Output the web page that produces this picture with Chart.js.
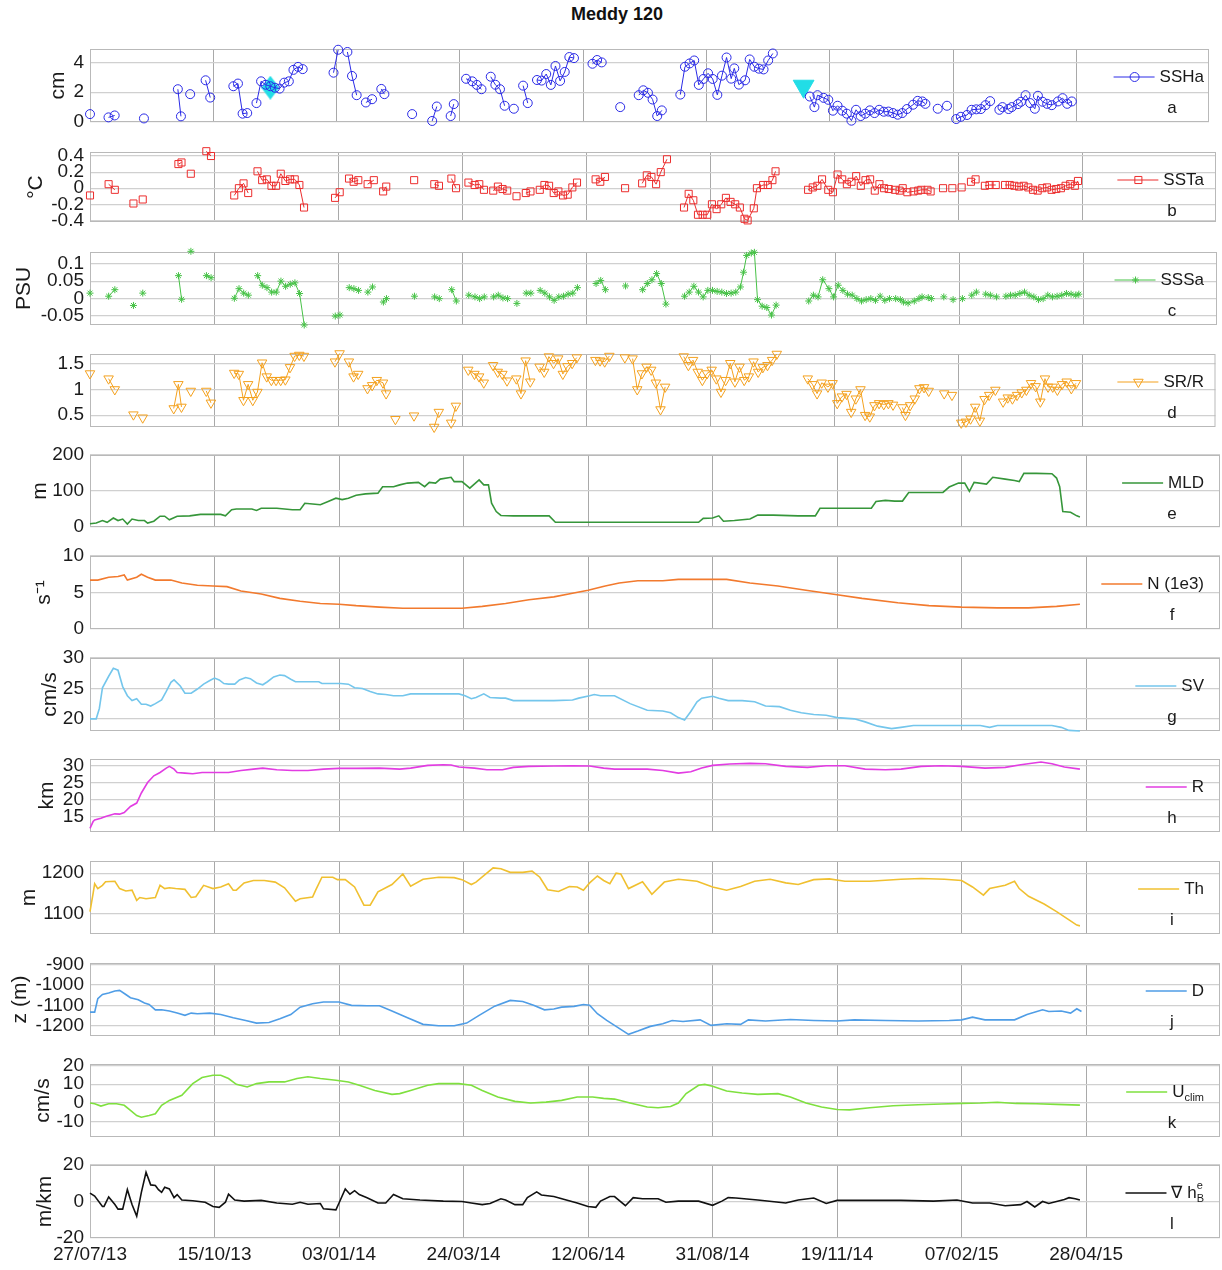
<!DOCTYPE html>
<html>
<head>
<meta charset="utf-8">
<title>Meddy 120</title>
<script src="https://cdn.jsdelivr.net/npm/chart.js@4.4.1/dist/chart.umd.min.js"></script>
<style>
	html, body { margin: 0; padding: 0; background: #fff; }
	body { position: relative; width: 1222px; height: 1270px; overflow: hidden; font-family: 'Liberation Sans', Arial, sans-serif; }
	#title { position: absolute; left: 6px; width: 1222px; top: 4px; text-align: center; font-weight: bold; font-size: 18px; color: #111; }
	.panel { position: absolute; left: 0; }
</style>
</head>
<body>
<div id="title">Meddy 120</div>
<script>
(function() {
	'use strict';

	// Time axis: days since 27/07/13
	const xTickDays = [0, 80, 160, 240, 320, 400, 480, 560, 640];
	const xTickLabels = ['27/07/13', '15/10/13', '03/01/14', '24/03/14', '12/06/14', '31/08/14', '19/11/14', '07/02/15', '28/04/15'];

	// Y tick values per panel
	const yTicksA = [0, 2, 4];
	const yTicksB = [-0.4, -0.2, 0, 0.2, 0.4];
	const yTicksC = [-0.05, 0, 0.05, 0.1];
	const yTicksD = [0.5, 1, 1.5];
	const yTicksE = [0, 100, 200];
	const yTicksF = [0, 5, 10];
	const yTicksG = [20, 25, 30];
	const yTicksH = [15, 20, 25, 30];
	const yTicksI = [1100, 1200];
	const yTicksJ = [-1200, -1100, -1000, -900];
	const yTicksK = [-10, 0, 10, 20];
	const yTicksL = [-20, 0, 20];

	// a: SSHa (cm), [day, value]
	const sshaPts = [[0,0.53],[12,0.31],[16,0.44],[35,0.24],[57,2.2],[59,0.38],[65,1.87],[75,2.8],[78,1.64],
		[93,2.4],[96,2.58],[99,0.56],[102,0.6],[108,1.27],[111,2.73],[114,2.5],[117,2.4],[120,2.3],[123,2.24],
		[126,2.64],[129,2.73],[132,3.5],[135,3.7],[138,3.55],[158,3.31],[161,4.85],[167,4.7],[170,3.09],[173,1.8],
		[179,1.31],[183,1.53],[189,2.22],[191,1.87],[209,0.53],[222,0.07],[225,1.04],[234,0.4],[236,1.2],
		[244,2.9],[248,2.73],[251,2.49],[254,2.2],[260,3.04],[263,2.5],[266,2.2],[269,1.09],[275,0.89],
		[281,2.44],[284,1.27],[290,2.82],[293,2.78],[296,3.22],[299,2.49],[302,3.76],[305,2.76],[308,3.36],
		[311,4.36],[314,4.29],[326,3.91],[329,4.16],[332,4.0],[344,1.0],[356,1.8],[359,2.13],[362,1.96],
		[365,1.51],[368,0.4],[371,0.78],[383,1.84],[386,3.71],[389,3.93],[392,4.13],[395,2.49],[398,2.89],
		[401,3.27],[404,2.89],[407,1.82],[410,3.11],[413,4.33],[416,2.91],[418,3.6],[421,2.51],[425,2.8],
		[428,4.2],[431,3.71],[434,3.58],[437,3.53],[440,4.13],[443,4.6],[467,1.71],[470,1.0],[472,1.8],
		[476,1.62],[479,1.49],[482,0.76],[485,1.09],[488,0.76],[491,0.56],[494,0.09],[497,0.82],[500,0.4],
		[503,0.56],[506,0.78],[509,0.6],[512,0.82],[515,0.69],[518,0.7],[521,0.6],[524,0.49],[527,0.6],
		[530,0.87],[534,1.16],[537,1.42],[540,1.38],[542,1.22],[550,0.89],[556,1.09],[562,0.2],[565,0.35],
		[569,0.47],[572,0.82],[575,0.85],[578,0.87],[581,1.13],[584,1.4],[590,0.82],[592,1.0],[596,0.87],
		[598,1.0],[602,1.2],[604,1.36],[607,1.8],[610,1.27],[613,0.89],[615,1.76],[618,1.36],[621,1.22],
		[624,1.13],[628,1.38],[631,1.6],[634,1.22],[637,1.38]];
	const diamondPt = [117, 2.3];
	const trianglePt = [463, 2.4];

	// b: SSTa (degC)
	const sstaPts = [[0,-0.09],[12,0.05],[16,-0.02],[28,-0.19],[34,-0.14],[57,0.30],[59,0.32],[65,0.18],[75,0.46],
		[78,0.40],[93,-0.09],[96,0.0],[99,0.06],[102,-0.06],[108,0.21],[111,0.1],[114,0.11],[117,0.03],[120,0.03],
		[123,0.18],[126,0.09],[129,0.11],[132,0.11],[135,0.04],[138,-0.24],[158,-0.12],[161,-0.05],[167,0.12],
		[170,0.08],[173,0.1],[179,0.05],[183,0.1],[189,-0.04],[191,0.02],[209,0.1],[222,0.05],[225,0.03],
		[233,0.12],[236,0.0],[244,0.07],[248,0.04],[251,0.05],[254,-0.02],[260,-0.03],[263,0.02],[266,-0.01],
		[269,-0.03],[275,-0.1],[281,-0.06],[284,-0.04],[290,-0.02],[293,0.04],[296,0.03],[299,-0.06],[302,-0.04],
		[305,-0.09],[308,-0.08],[311,0.01],[314,0.07],[326,0.11],[329,0.08],[332,0.14],[345,0.0],[356,0.06],
		[359,0.16],[362,0.14],[365,0.05],[368,0.2],[372,0.36],[383,-0.24],[386,-0.07],[389,-0.15],[392,-0.33],
		[395,-0.33],[398,-0.33],[401,-0.2],[404,-0.26],[407,-0.2],[410,-0.12],[413,-0.17],[416,-0.2],[419,-0.24],
		[422,-0.38],[424,-0.4],[428,-0.25],[430,0.0],[434,0.04],[437,0.04],[440,0.1],[442,0.21],[463,-0.02],
		[466,0.01],[469,0.03],[472,0.11],[476,-0.02],[479,-0.05],[482,0.17],[485,0.11],[488,0.05],[491,0.08],
		[494,0.15],[497,0.03],[500,0.1],[503,0.11],[506,-0.03],[509,0.05],[512,0.0],[515,-0.01],[519,-0.02],
		[522,-0.03],[524,0.0],[527,-0.05],[531,-0.04],[534,-0.03],[536,-0.02],[540,-0.02],[542,-0.04],[550,0.0],
		[556,0.0],[562,0.01],[568,0.08],[571,0.11],[577,0.03],[580,0.04],[584,0.04],[590,0.04],[593,0.04],
		[596,0.03],[599,0.02],[602,0.03],[605,0.01],[608,-0.02],[611,-0.03],[614,0.0],[617,0.01],[620,-0.02],
		[623,-0.01],[626,0.0],[629,0.03],[632,0.05],[635,0.03],[637,0.09]];

	// c: SSSa (PSU)
	const sssaPts = [[0,0.015],[12,0.006],[16,0.025],[28,-0.021],[34,0.015],[57,0.066],[59,-0.003],[65,0.137],
		[75,0.066],[78,0.06],[93,0.0],[96,0.028],[99,0.015],[102,0.009],[108,0.066],[111,0.038],[114,0.031],
		[117,0.018],[120,0.018],[123,0.05],[126,0.035],[129,0.041],[132,0.045],[135,0.014],[138,-0.078],
		[158,-0.052],[161,-0.049],[167,0.031],[170,0.028],[173,0.023],[179,0.018],[182,0.033],[189,-0.011],
		[191,-0.001],[209,0.006],[222,0.004],[225,-0.001],[233,0.025],[236,-0.008],[244,0.009],[248,0.004],
		[251,-0.001],[254,0.004],[260,0.004],[263,0.009],[266,0.001],[269,-0.001],[275,-0.015],[281,0.015],
		[284,0.015],[290,0.023],[293,0.015],[296,0.004],[299,-0.006],[302,0.004],[305,0.006],[308,0.012],
		[311,0.015],[314,0.031],[326,0.043],[329,0.052],[332,0.025],[345,0.036],[356,0.025],[359,0.043],
		[362,0.054],[365,0.072],[368,0.043],[371,-0.017],[383,0.006],[386,0.018],[389,0.035],[392,0.018],
		[395,0.004],[398,0.023],[401,0.023],[404,0.02],[407,0.018],[410,0.014],[413,0.015],[416,0.018],
		[419,0.033],[421,0.076],[423,0.125],[426,0.132],[428,0.134],[430,-0.004],[433,-0.023],[436,-0.027],
		[439,-0.049],[442,-0.02],[463,-0.008],[466,0.009],[469,0.004],[472,0.054],[476,0.028],[479,0.004],
		[482,0.038],[485,0.023],[488,0.012],[491,0.009],[494,-0.001],[497,-0.008],[500,-0.004],[503,-0.001],
		[506,-0.006],[509,0.006],[512,-0.006],[515,-0.001],[519,-0.001],[522,-0.004],[524,-0.011],[527,-0.014],
		[531,-0.008],[534,-0.001],[536,0.004],[540,0.002],[542,-0.001],[550,0.004],[556,-0.004],[562,-0.001],
		[568,0.009],[571,0.018],[577,0.012],[580,0.009],[584,0.004],[590,0.006],[593,0.009],[596,0.009],
		[599,0.014],[602,0.018],[605,0.009],[608,0.004],[611,-0.004],[614,-0.001],[617,0.009],[620,0.004],
		[623,0.006],[626,0.009],[629,0.014],[632,0.012],[635,0.009],[637,0.012]];

	// d: SR/R
	const srrPts = [[0,1.31],[12,1.21],[16,1.0],[28,0.51],[34,0.45],[54,0.63],[57,1.1],[59,0.66],[65,0.97],
		[75,0.97],[78,0.74],[93,1.32],[96,1.3],[99,0.79],[102,1.1],[105,0.79],[108,0.95],[111,1.52],[114,1.25],
		[117,1.18],[120,1.18],[123,1.18],[126,1.19],[129,1.43],[132,1.65],[135,1.67],[138,1.65],[158,1.54],
		[161,1.7],[167,1.54],[170,1.25],[173,1.3],[179,1.02],[182,1.08],[185,1.18],[189,1.13],[191,0.92],
		[197,0.42],[209,0.49],[222,0.27],[225,0.56],[233,0.35],[236,0.68],[244,1.38],[248,1.3],[251,1.25],
		[254,1.13],[260,1.47],[263,1.34],[266,1.3],[269,1.17],[275,1.21],[278,0.92],[281,1.56],[284,1.15],
		[290,1.44],[293,1.34],[296,1.64],[299,1.51],[302,1.6],[305,1.3],[308,1.45],[311,1.51],[314,1.62],
		[326,1.57],[329,1.56],[332,1.54],[335,1.65],[345,1.62],[350,1.6],[353,1.0],[356,1.31],[359,1.44],
		[362,1.38],[365,1.13],[368,0.61],[371,1.05],[383,1.64],[386,1.47],[389,1.57],[392,1.34],[395,1.18],
		[398,1.31],[401,1.38],[404,1.21],[407,0.95],[410,1.18],[413,1.51],[416,1.15],[419,1.44],[422,1.18],
		[425,1.25],[428,1.54],[431,1.34],[434,1.43],[437,1.47],[440,1.57],[443,1.69],[463,1.21],[466,1.1],
		[469,0.92],[472,1.13],[476,1.05],[479,1.12],[482,0.73],[485,0.86],[488,0.91],[491,0.56],[494,0.82],
		[497,1.0],[500,0.5],[503,0.47],[506,0.69],[509,0.73],[512,0.71],[515,0.73],[518,0.7],[524,0.65],
		[526,0.5],[529,0.69],[532,0.82],[535,1.02],[538,1.04],[541,0.97],[551,0.92],[556,0.89],[562,0.35],
		[565,0.37],[568,0.43],[571,0.66],[574,0.39],[577,0.81],[580,0.89],[584,0.99],[589,0.76],[592,0.84],
		[595,0.82],[598,0.89],[601,0.94],[604,0.99],[607,1.12],[610,1.06],[613,0.76],[616,1.21],[618,1.05],
		[621,1.05],[624,0.99],[627,1.1],[630,1.15],[633,1.02],[636,1.12]];

	// e: MLD (m)
	const mldPts = [[0,9],[4,11],[8,18],[11,13],[15,25],[18,18],[21,22],[24,8],[27,22],[31,18],[35,18],[37,11],
		[41,16],[45,30],[48,30],[51,20],[56,30],[64,31],[71,35],[84,35],[87,31],[91,48],[94,50],[104,50],[107,46],
		[110,52],[120,52],[130,48],[135,48],[138,66],[143,64],[148,62],[153,71],[158,80],[162,76],[166,80],
		[171,88],[177,92],[185,94],[188,112],[195,112],[199,117],[204,122],[211,124],[215,112],[218,124],
		[222,122],[225,133],[232,138],[234,126],[239,126],[244,108],[250,131],[253,117],[256,117],[258,66],
		[261,43],[264,32],[272,31],[285,31],[295,31],[299,13],[311,13],[327,13],[352,13],[391,13],[394,24],
		[400,25],[404,31],[407,16],[414,18],[424,22],[429,33],[439,33],[455,31],[466,31],[469,52],[480,52],
		[491,52],[502,52],[505,71],[511,74],[517,72],[522,72],[526,96],[537,96],[548,96],[552,111],[558,122],
		[562,122],[565,99],[568,124],[576,119],[580,138],[588,133],[594,129],[597,126],[600,149],[608,149],
		[618,148],[621,136],[623,112],[625,43],[630,41],[634,31],[636,28]];

	// f: N (1e3), s^-1
	const nPts = [[0,6.7],[5,6.7],[12,7.1],[18,7.2],[22,7.4],[24,6.7],[30,7.1],[33,7.5],[37,7.1],[42,6.7],
		[52,6.7],[59,6.3],[69,6.0],[79,5.9],[88,5.8],[97,5.2],[110,4.8],[122,4.2],[135,3.8],[148,3.5],[160,3.4],
		[171,3.2],[186,3.0],[201,2.85],[216,2.85],[239,2.85],[252,3.1],[267,3.5],[282,4.0],[298,4.4],[310,4.9],
		[320,5.3],[331,5.9],[340,6.3],[352,6.6],[368,6.6],[378,6.8],[400,6.8],[409,6.8],[424,6.3],[442,5.9],
		[460,5.3],[480,4.7],[496,4.2],[519,3.6],[539,3.2],[560,3.0],[583,2.9],[603,2.9],[621,3.1],[636,3.4]];

	// g: SV (cm/s)
	const svPts = [[0,20],[4,20],[6,21.7],[8,25.1],[12,27],[15,28.3],[18,28],[21,25.3],[24,23.8],[27,23],
		[30,23.3],[33,22.4],[36,22.4],[39,22.1],[42,22.5],[46,23.1],[49,24.5],[52,26],[54,26.4],[58,25.4],
		[61,24.2],[65,24.2],[69,24.9],[73,25.7],[77,26.3],[80,26.7],[83,26.4],[86,25.8],[89,25.7],[93,25.7],
		[96,26.4],[100,26.8],[103,26.6],[107,25.9],[111,25.6],[114,26.1],[118,26.9],[122,27.2],[125,27.1],
		[129,26.5],[132,26.1],[136,26.1],[143,26.1],[147,26.1],[149,25.8],[154,25.8],[161,25.8],[166,25.7],
		[170,25.1],[175,25],[180,24.5],[185,24.1],[190,24],[195,23.8],[201,23.8],[206,24.1],[217,24.1],
		[227,24.1],[237,24.1],[241,23.8],[245,23.3],[248,23.5],[253,24.1],[257,23.5],[264,23.4],[267,23.4],
		[272,23],[280,23],[298,23],[310,23.1],[314,23.4],[321,23.8],[324,24],[328,23.8],[337,23.8],[347,22.5],
		[358,21.4],[368,21.3],[373,21],[378,20.2],[382,19.8],[386,21.2],[390,22.8],[393,23.4],[400,23.7],
		[404,23.4],[410,23],[419,23],[427,22.8],[434,22.1],[443,22],[450,21.4],[457,21],[465,20.7],[473,20.6],
		[480,20.2],[491,20],[498,19.5],[506,18.8],[515,18.4],[521,18.6],[529,18.9],[544,18.9],[560,18.9],
		[572,18.9],[578,18.6],[583,18.9],[598,18.9],[618,18.9],[624,18.6],[629,18.1],[636,18.0]];

	// h: R (km)
	const rPts = [[0,11.5],[2,13.5],[3,14],[7,14.5],[10,15],[16,15.8],[19,15.7],[22,16.2],[26,18],[30,19],
		[33,22],[37,25.1],[41,27.1],[45,28.1],[49,29.4],[51,29.9],[54,29.1],[56,28.1],[61,27.9],[66,27.7],
		[72,28.1],[79,28.1],[89,28.1],[97,28.7],[105,29.1],[111,29.4],[120,28.9],[130,28.7],[140,28.7],
		[150,29.1],[160,29.3],[171,29.3],[186,29.4],[199,29.1],[206,29.4],[217,30.2],[227,30.4],[232,30.3],
		[237,29.7],[247,29.4],[255,28.9],[265,28.9],[272,29.6],[282,29.9],[298,30],[310,30.1],[321,30],
		[330,29.4],[337,29.1],[347,29.1],[358,29.1],[368,28.7],[378,27.9],[386,28.3],[393,29.4],[400,30.2],
		[411,30.6],[424,30.8],[434,30.7],[447,29.9],[461,29.6],[473,30.1],[485,30.1],[498,29.1],[511,28.9],
		[521,29.1],[534,29.9],[547,30.1],[560,29.9],[575,29.4],[588,29.6],[598,30.4],[611,31.2],[618,30.7],
		[626,29.7],[636,29.1]];

	// i: Th (m)
	const thPts = [[0,1105],[2,1150],[3,1174],[5,1162],[8,1170],[10,1179],[16,1180],[19,1162],[23,1156],
		[27,1158],[30,1133],[32,1140],[36,1137],[42,1140],[45,1170],[48,1162],[51,1164],[55,1162],[61,1160],
		[65,1140],[68,1142],[73,1170],[79,1162],[84,1166],[89,1174],[92,1158],[94,1158],[99,1176],[105,1182],
		[112,1182],[119,1178],[125,1164],[132,1131],[135,1137],[143,1141],[145,1158],[149,1190],[156,1190],
		[159,1184],[164,1184],[170,1166],[176,1121],[180,1121],[185,1154],[194,1172],[201,1198],[206,1168],
		[214,1185],[224,1190],[234,1189],[239,1184],[245,1172],[248,1178],[259,1213],[264,1211],[270,1202],
		[278,1202],[284,1205],[289,1190],[294,1159],[301,1155],[308,1167],[313,1166],[317,1158],[321,1176],
		[326,1193],[330,1182],[334,1174],[338,1200],[341,1198],[346,1162],[355,1179],[361,1148],[369,1178],
		[378,1185],[390,1180],[400,1166],[409,1158],[418,1167],[427,1180],[437,1185],[447,1176],[455,1172],
		[465,1184],[475,1186],[485,1180],[501,1180],[521,1185],[534,1187],[549,1185],[560,1182],[567,1166],
		[574,1146],[578,1162],[588,1170],[594,1180],[597,1162],[603,1143],[613,1124],[621,1105],[629,1085],
		[634,1072],[636,1070]];

	// j: D, z (m)
	const dPts = [[0,-1133],[3,-1133],[5,-1068],[8,-1047],[12,-1040],[16,-1030],[19,-1027],[23,-1047],
		[26,-1063],[31,-1073],[35,-1089],[38,-1096],[42,-1122],[46,-1122],[51,-1128],[56,-1138],[61,-1149],
		[65,-1138],[69,-1141],[77,-1138],[84,-1145],[92,-1161],[100,-1174],[107,-1187],[115,-1184],[122,-1166],
		[129,-1145],[135,-1109],[143,-1092],[150,-1084],[160,-1084],[168,-1100],[178,-1102],[186,-1102],
		[194,-1128],[204,-1161],[214,-1193],[224,-1200],[234,-1200],[242,-1187],[250,-1149],[260,-1104],
		[270,-1076],[278,-1081],[285,-1100],[292,-1122],[298,-1118],[303,-1109],[311,-1105],[317,-1096],
		[321,-1100],[326,-1141],[332,-1174],[337,-1198],[346,-1242],[352,-1226],[360,-1203],[368,-1190],
		[374,-1174],[381,-1179],[392,-1171],[399,-1198],[409,-1190],[418,-1193],[423,-1171],[434,-1177],
		[450,-1169],[465,-1174],[480,-1177],[491,-1171],[511,-1174],[532,-1177],[552,-1174],[560,-1171],
		[567,-1158],[575,-1171],[594,-1171],[602,-1145],[612,-1122],[616,-1130],[624,-1128],[630,-1138],
		[634,-1117],[637,-1130]];

	// k: U_clim (cm/s)
	const uPts = [[0,0],[3,-0.4],[7,-1.6],[12,-0.4],[17,-0.4],[22,-1.2],[26,-3.9],[30,-6.6],[33,-7.5],
		[38,-6.6],[42,-5.7],[46,-1.2],[51,1.4],[59,4.1],[66,10.3],[72,13.5],[79,14.7],[84,14.7],[89,13],
		[94,9.9],[101,8.5],[107,10.3],[115,11.2],[125,11.2],[133,13],[140,13.9],[148,13],[158,12.1],[166,11.2],
		[173,9.4],[183,6.7],[194,4.6],[199,5],[206,6.7],[217,9.4],[224,10.3],[237,10.3],[245,9.4],[252,6.7],
		[262,3.2],[273,0.9],[283,0],[293,0.5],[303,1.4],[313,3.2],[323,3.2],[330,2.5],[337,2.1],[347,0],
		[358,-2.1],[365,-2.5],[373,-1.8],[378,0],[383,5],[391,9.4],[395,9.9],[400,8.9],[409,6.4],[419,5.3],
		[429,4.6],[442,5],[450,3.2],[460,0],[470,-2.1],[480,-3.4],[488,-3.6],[501,-2.5],[516,-1.4],[532,-0.9],
		[547,-0.5],[560,-0.2],[572,0],[583,0.4],[595,-0.2],[608,-0.4],[621,-0.7],[636,-1.1]];

	// l: grad h_B^e (m/km)
	const gradPts = [[0,4.6],[3,3],[8,-2.7],[9,-2.7],[12,2.5],[16,-1.7],[18,-4.2],[21,-4.2],[24,6.5],[27,-1.7],
		[30,-8],[33,5],[36,16],[39,9.1],[42,8.8],[44,6.5],[46,5],[48,7.8],[51,6.9],[54,2.1],[56,3.8],[59,0.8],
		[66,0.4],[74,-0.4],[79,-2.7],[83,-3.2],[87,-0.4],[89,4],[93,0.8],[99,0.2],[110,0.6],[120,-0.8],
		[130,-1.5],[135,-0.4],[140,-1.5],[148,-1.1],[150,-4],[158,-4.6],[160,-0.8],[164,6.9],[167,4],[170,5.9],
		[173,3.8],[178,2.1],[185,-0.8],[190,-0.8],[195,3.8],[201,1.5],[212,0.8],[227,0.2],[239,0],[245,-0.8],
		[252,-1.7],[257,-1.1],[264,1.5],[267,0.8],[273,-1.7],[278,-1.7],[281,2.1],[287,5.3],[290,3.6],[298,2.7],
		[306,0.8],[313,-0.8],[320,-2.7],[325,-3.2],[328,0.2],[334,2.7],[337,2.7],[344,-2.3],[349,2.1],[355,1.5],
		[360,1.5],[365,1.5],[370,-0.4],[378,0.2],[391,0.2],[400,-2.1],[406,0.2],[410,2.1],[415,1.9],[429,0.8],
		[447,-0.8],[455,0.8],[465,1.9],[473,-1.1],[480,0.6],[501,0.6],[521,0.6],[542,0.2],[557,0.8],[567,-0.8],
		[578,-0.8],[588,-2.3],[598,-1.7],[602,0],[607,-3],[612,0],[616,-1.1],[621,0],[626,1.1],[629,2.1],
		[633,1.5],[636,0.8]];

	const FONT = "'Liberation Sans', Arial, Helvetica, sans-serif";
	const PAGE_W = 1222;
	const PLOT_L = 90;
	const PLOT_R = 1220;
	const X_MAX = 726;
	const GAP_DAYS = 4.6;
	const PAD = 22;
	const TICK_SIZE = 19;

	const panels = [
		{ top: 49, bottom: 122, pts: sshaPts, color: '#2a2ae6', marker: 'circle', radius: 4.5, ylabel: 'cm', titleX: 58,
			min: 0, max: 4.9, ticks: yTicksA, legend: [{ text: 'SSHa' }], letter: 'a' },
		{ top: 152, bottom: 222, pts: sstaPts, color: '#ec2d2d', marker: 'rect', radius: 5, ylabel: '°C', titleX: 36,
			min: -0.42, max: 0.45, ticks: yTicksB, legend: [{ text: 'SSTa' }], letter: 'b' },
		{ top: 252, bottom: 325, pts: sssaPts, color: '#47c247', marker: 'star', radius: 3.5, ylabel: 'PSU', titleX: 24,
			min: -0.078, max: 0.135, ticks: yTicksC, legend: [{ text: 'SSSa' }], letter: 'c' },
		{ top: 354, bottom: 427, pts: srrPts, color: '#f4a11e', marker: 'triangle', rotation: 180, radius: 5.5, ylabel: '', titleX: 30,
			min: 0.27, max: 1.69, ticks: yTicksD, legend: [{ text: 'SR/R' }], letter: 'd' },
		{ top: 455, bottom: 527, pts: mldPts, color: '#36963a', ylabel: 'm', titleX: 40,
			min: 0, max: 200, ticks: yTicksE, legend: [{ text: 'MLD' }], letter: 'e' },
		{ top: 556, bottom: 629, pts: nPts, color: '#f27a2e', ylabel: 's⁻¹', titleX: 44,
			min: 0, max: 10, ticks: yTicksF, legend: [{ text: 'N (1e3)' }], letter: 'f' },
		{ top: 658, bottom: 731, pts: svPts, color: '#74c6ec', ylabel: 'cm/s', titleX: 50,
			min: 18, max: 30, ticks: yTicksG, legend: [{ text: 'SV' }], letter: 'g' },
		{ top: 759, bottom: 832, pts: rPts, color: '#e23ce2', ylabel: 'km', titleX: 47,
			min: 10.4, max: 32.1, ticks: yTicksH, legend: [{ text: 'R' }], letter: 'h' },
		{ top: 861, bottom: 934, pts: thPts, color: '#f0c030', ylabel: 'm', titleX: 29,
			min: 1050, max: 1230, ticks: yTicksI, legend: [{ text: 'Th' }], letter: 'i' },
		{ top: 963, bottom: 1036, pts: dPts, color: '#4f9de6', ylabel: 'z (m)', titleX: 20,
			min: -1250, max: -893, ticks: yTicksJ, legend: [{ text: 'D' }], letter: 'j' },
		{ top: 1064, bottom: 1137, pts: uPts, color: '#7fe03f', ylabel: 'cm/s', titleX: 43,
			min: -18, max: 20.7, ticks: yTicksK, legend: [{ text: 'U' }, { text: 'clim', sub: true }], letter: 'k' },
		{ top: 1165, bottom: 1238, pts: gradPts, color: '#111111', ylabel: 'm/km', titleX: 45,
			min: -20, max: 20, ticks: yTicksL, legend: [{ text: '∇ h' }, { text: 'e', sup: true, stack: true }, { text: 'B', sub: true }],
			letter: 'l', showX: true }
	];

	/**
	 * Build an image marker for the tall cyan diamond.
	 */
	function makeDiamond(w, h, color) {
		const c = document.createElement('canvas');
		c.width = w;
		c.height = h;
		const g = c.getContext('2d');
		g.fillStyle = color;
		g.beginPath();
		g.moveTo(w / 2, 0);
		g.lineTo(w, h / 2);
		g.lineTo(w / 2, h);
		g.lineTo(0, h / 2);
		g.closePath();
		g.fill();
		return c;
	}

	// Light box around each axes
	const framePlugin = {
		id: 'frame',
		beforeDatasetsDraw(chart) {
			const { ctx, chartArea: a } = chart;
			ctx.save();
			ctx.strokeStyle = '#b9b9b9';
			ctx.lineWidth = 1;
			ctx.strokeRect(a.left + 0.5, a.top + 0.5, a.right - a.left - 1, a.bottom - a.top - 1);
			ctx.restore();
		}
	};

	/**
	 * Legend drawn inside the axes, on the right, plus the panel letter.
	 */
	function makeLegendPlugin(p) {
		return {
			id: 'panelLegend',
			afterDraw(chart) {
				const { ctx, chartArea } = chart;
				const rowY = chartArea.top + 28;
				const letterY = chartArea.top + 59;
				const textRight = 1204;

				ctx.save();
				// measure the label runs
				let width = 0;
				const runs = p.legend.map(function(r) {
					const size = (r.sub || r.sup) ? 11 : 17;
					ctx.font = size + 'px ' + FONT;
					const w = ctx.measureText(r.text).width;
					const run = { text: r.text, size: size, x: width, dy: r.sub ? 6 : (r.sup ? -7 : 0) };
					if (!r.stack) {
						width += w;
					}
					return run;
				});
				const start = textRight - width;

				// sample line and marker
				ctx.strokeStyle = p.color;
				ctx.lineWidth = p.marker ? 1 : 1.6;
				ctx.beginPath();
				ctx.moveTo(start - 46, rowY);
				ctx.lineTo(start - 5, rowY);
				ctx.stroke();
				if (p.marker) {
					ctx.fillStyle = 'rgba(0,0,0,0)';
					ctx.lineWidth = 1;
					Chart.helpers.drawPoint(ctx, {
						pointStyle: p.marker, radius: p.radius, rotation: p.rotation || 0, borderWidth: 1
					}, start - 25, rowY);
				}

				ctx.fillStyle = '#1a1a1a';
				ctx.textBaseline = 'middle';
				ctx.textAlign = 'left';
				runs.forEach(function(r) {
					ctx.font = r.size + 'px ' + FONT;
					ctx.fillText(r.text, start + r.x, rowY + r.dy);
				});

				ctx.font = '17px ' + FONT;
				ctx.textAlign = 'center';
				ctx.fillText(p.letter, 1172, letterY);
				ctx.restore();
			}
		};
	}

	/**
	 * Create one stacked panel as its own chart.
	 */
	function makePanel(p) {
		const xH = p.showX ? 40 : 0;
		const height = (p.bottom - p.top) + 2 * PAD + xH;

		const wrap = document.createElement('div');
		wrap.className = 'panel';
		wrap.style.top = (p.top - PAD) + 'px';
		const canvas = document.createElement('canvas');
		canvas.width = PAGE_W;
		canvas.height = height;
		canvas.style.width = PAGE_W + 'px';
		canvas.style.height = height + 'px';
		wrap.appendChild(canvas);
		document.body.appendChild(wrap);

		const color = p.color;
		const datasets = [{
			data: p.pts.map(function(d) { return { x: d[0], y: d[1] }; }),
			borderColor: color,
			borderWidth: p.marker ? 1 : 1.6,
			pointStyle: p.marker || 'circle',
			pointRadius: p.marker ? p.radius : 0,
			pointRotation: p.rotation || 0,
			pointBorderColor: color,
			pointBackgroundColor: 'rgba(0,0,0,0)',
			pointBorderWidth: 1,
			tension: 0,
			clip: false,
			segment: p.marker ? {
				borderColor: function(c) {
					return (c.p1.parsed.x - c.p0.parsed.x > GAP_DAYS) ? 'rgba(0,0,0,0)' : color;
				}
			} : undefined
		}];

		if (p.letter === 'a') {
			datasets.push({
				data: [{ x: diamondPt[0], y: diamondPt[1] }],
				showLine: false,
				pointStyle: makeDiamond(18, 24, '#22dde6'),
				pointRadius: 12,
				clip: false
			});
			datasets.push({
				data: [{ x: trianglePt[0], y: trianglePt[1] }],
				showLine: false,
				pointStyle: 'triangle',
				pointRotation: 180,
				pointRadius: 12,
				pointBackgroundColor: '#22dde6',
				pointBorderColor: '#22dde6',
				pointBorderWidth: 1,
				clip: false
			});
		}

		new Chart(canvas, {
			type: 'line',
			data: { datasets: datasets },
			options: {
				responsive: false,
				animation: false,
				events: [],
				layout: { padding: { left: 0, right: PAGE_W - PLOT_R, top: PAD, bottom: PAD } },
				plugins: { legend: { display: false }, tooltip: { enabled: false } },
				scales: {
					x: {
						type: 'linear',
						min: 0,
						max: X_MAX,
						afterBuildTicks: function(axis) {
							axis.ticks = xTickDays.map(function(v) { return { value: v }; });
						},
						afterFit: function(axis) { axis.height = xH; },
						grid: { color: '#a9a9a9', lineWidth: 1, drawTicks: false },
						border: { display: false },
						ticks: {
							display: !!p.showX,
							autoSkip: false,
							maxRotation: 0,
							padding: 5,
							color: '#1a1a1a',
							font: { family: FONT, size: TICK_SIZE },
							callback: function(value, index) { return xTickLabels[index]; }
						}
					},
					y: {
						type: 'linear',
						min: p.min,
						max: p.max,
						afterBuildTicks: function(axis) {
							axis.ticks = p.ticks.map(function(v) { return { value: v }; });
						},
						afterFit: function(axis) { axis.width = PLOT_L; },
						grid: { color: '#d0d0d0', lineWidth: 1.2, drawTicks: false },
						border: { display: false },
						ticks: {
							autoSkip: false,
							padding: 6,
							color: '#1a1a1a',
							font: { family: FONT, size: TICK_SIZE },
							callback: function(value) { return String(value); }
						},
						title: {
							display: !!p.ylabel,
							text: p.ylabel,
							color: '#1a1a1a',
							font: { family: FONT, size: 21 },
							padding: { top: p.titleX - 12.6, bottom: 0 }
						}
					}
				}
			},
			plugins: [framePlugin, makeLegendPlugin(p)]
		});
	}

	panels.forEach(makePanel);
})();
</script>
</body>
</html>
